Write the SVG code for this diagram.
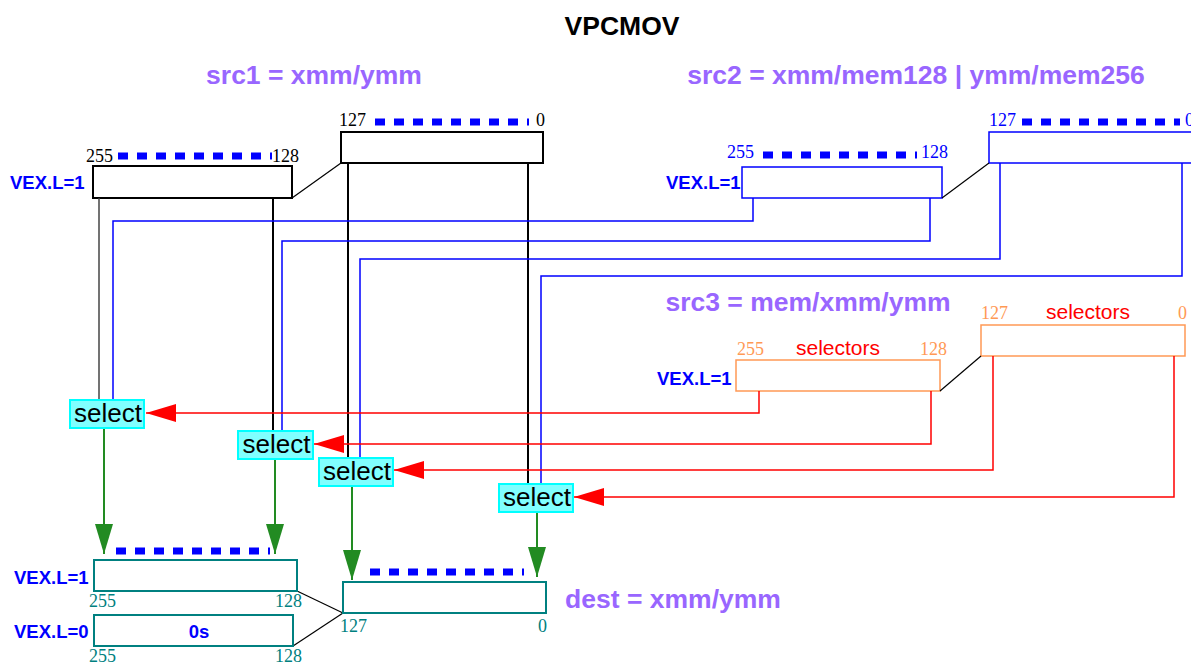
<svg xmlns="http://www.w3.org/2000/svg" width="1191" height="662" viewBox="0 0 1191 662">
<defs>
<marker id="ar" markerUnits="userSpaceOnUse" markerWidth="32" markerHeight="20" refX="30" refY="9" orient="auto"><path d="M0,0 L30,9 L0,18 Z" fill="#ff0000"/></marker>
<marker id="ag" markerUnits="userSpaceOnUse" markerWidth="32" markerHeight="20" refX="30" refY="9" orient="auto"><path d="M0,0 L30,9 L0,18 Z" fill="#228b22"/></marker>
</defs>
<style>
.title{font-family:"Liberation Sans",Arial,sans-serif;font-weight:bold;font-size:26.5px;fill:#000}
.op{font-family:"Liberation Sans",Arial,sans-serif;font-weight:bold;font-size:26.5px;fill:#9966ff}
.vex{font-family:"Liberation Sans",Arial,sans-serif;font-weight:bold;font-size:18.5px;fill:#0000ff}
.num{font-family:"Liberation Serif","Times New Roman",serif;font-size:18px}
.sel{font-family:"Liberation Sans",Arial,sans-serif;font-size:21px;fill:#ff0000}
.selt{font-family:"Liberation Sans",Arial,sans-serif;font-size:26px;fill:#000}
.dash{stroke:#0000ff;stroke-width:7;stroke-dasharray:10 9;fill:none}
.thin{stroke:#000;stroke-width:1.2;fill:none}
.selbox{fill:#80ffff;stroke:#00ffff;stroke-width:2}
</style>
<text class="title" x="622" y="35" text-anchor="middle">VPCMOV</text>
<g id="labels">
<text class="op" x="314" y="84" text-anchor="middle">src1 = xmm/ymm</text>
<text class="op" x="916" y="84" text-anchor="middle">src2 = xmm/mem128 | ymm/mem256</text>
<text class="op" x="808" y="311" text-anchor="middle">src3 = mem/xmm/ymm</text>
<text class="op" x="673" y="608" text-anchor="middle">dest = xmm/ymm</text>
</g>
<g id="src1-hi">
<text class="vex" x="10" y="189">VEX.L=1</text>
<text class="num" x="86" y="162" fill="#000">255</text>
<text class="num" x="272" y="162" fill="#000">128</text>
<line class="dash" x1="118" y1="156" x2="272" y2="156"/>
<rect x="93" y="166" width="199" height="32" fill="#fff" stroke="#000" stroke-width="2"/>
</g>
<g id="src1-lo">
<text class="num" x="339" y="126" fill="#000">127</text>
<text class="num" x="536" y="126" fill="#000">0</text>
<line class="dash" x1="375" y1="122" x2="529" y2="122"/>
<rect x="341" y="132" width="202" height="31" fill="#fff" stroke="#000" stroke-width="2"/>
</g>
<g id="src2-hi">
<text class="vex" x="666" y="189">VEX.L=1</text>
<text class="num" x="727" y="158" fill="#0000ff">255</text>
<text class="num" x="921" y="158" fill="#0000ff">128</text>
<line class="dash" x1="763" y1="155" x2="917" y2="155"/>
<rect x="742" y="167" width="200" height="31" fill="#fff" stroke="#0000ff" stroke-width="1.5"/>
</g>
<g id="src2-lo">
<text class="num" x="989" y="126" fill="#0000ff">127</text>
<text class="num" x="1185" y="126" fill="#0000ff">0</text>
<line class="dash" x1="1022" y1="122" x2="1180" y2="122"/>
<rect x="989" y="132" width="206" height="31" fill="#fff" stroke="#0000ff" stroke-width="1.5"/>
</g>
<g id="src3-hi">
<text class="vex" x="657" y="385">VEX.L=1</text>
<text class="num" x="737" y="355" fill="#ff9955">255</text>
<text class="sel" x="838" y="355" text-anchor="middle">selectors</text>
<text class="num" x="920" y="355" fill="#ff9955">128</text>
<rect x="736" y="360" width="204" height="31" fill="#fff" stroke="#ff9955" stroke-width="1.5"/>
</g>
<g id="src3-lo">
<text class="num" x="981" y="319" fill="#ff9955">127</text>
<text class="sel" x="1088" y="319" text-anchor="middle">selectors</text>
<text class="num" x="1178" y="319" fill="#ff9955">0</text>
<rect x="981" y="325" width="204" height="31" fill="#fff" stroke="#ff9955" stroke-width="1.5"/>
</g>
<g id="connectors">
<line class="thin" x1="292" y1="198" x2="341" y2="163"/>
<line class="thin" x1="942" y1="198" x2="989" y2="163"/>
<line class="thin" x1="940" y1="391" x2="981" y2="356"/>
<line class="thin" x1="297" y1="591" x2="343" y2="613"/>
<line class="thin" x1="293" y1="646" x2="343" y2="613"/>
<line x1="99" y1="198" x2="99" y2="400" stroke="#444" stroke-width="1.5"/>
<line x1="273" y1="198" x2="273" y2="431" stroke="#000" stroke-width="2"/>
<line x1="348" y1="163" x2="348" y2="458" stroke="#000" stroke-width="2"/>
<line x1="528" y1="163" x2="528" y2="484" stroke="#000" stroke-width="2"/>
<polyline points="753,198 753,221 113,221 113,400" fill="none" stroke="#0000ff" stroke-width="1.5"/>
<polyline points="930,198 930,241 282,241 282,431" fill="none" stroke="#0000ff" stroke-width="1.5"/>
<polyline points="1000,163 1000,259 360,259 360,458" fill="none" stroke="#0000ff" stroke-width="1.5"/>
<polyline points="1182,163 1182,276 541,276 541,484" fill="none" stroke="#0000ff" stroke-width="1.5"/>
<polyline points="759,391 759,413 146,413" fill="none" stroke="#ff0000" stroke-width="1.5" marker-end="url(#ar)"/>
<polyline points="931,391 931,444 314,444" fill="none" stroke="#ff0000" stroke-width="1.5" marker-end="url(#ar)"/>
<polyline points="993,356 993,470 394,470" fill="none" stroke="#ff0000" stroke-width="1.5" marker-end="url(#ar)"/>
<polyline points="1174,356 1174,497 574,497" fill="none" stroke="#ff0000" stroke-width="1.5" marker-end="url(#ar)"/>
<line x1="104" y1="428" x2="104" y2="554" stroke="#228b22" stroke-width="2" marker-end="url(#ag)"/>
<line x1="275" y1="459" x2="275" y2="554" stroke="#228b22" stroke-width="2" marker-end="url(#ag)"/>
<line x1="352" y1="487" x2="352" y2="580" stroke="#228b22" stroke-width="2" marker-end="url(#ag)"/>
<line x1="537" y1="512" x2="537" y2="577" stroke="#228b22" stroke-width="2" marker-end="url(#ag)"/>
</g>
<g id="select1"><rect class="selbox" x="70" y="400" width="74" height="28"/><text class="selt" x="108" y="422" text-anchor="middle">select</text></g>
<g id="select2"><rect class="selbox" x="238" y="431" width="75" height="28"/><text class="selt" x="276.5" y="453" text-anchor="middle">select</text></g>
<g id="select3"><rect class="selbox" x="319" y="458" width="74" height="28"/><text class="selt" x="357" y="480" text-anchor="middle">select</text></g>
<g id="select4"><rect class="selbox" x="499" y="484" width="74" height="28"/><text class="selt" x="537" y="506" text-anchor="middle">select</text></g>
<g id="dest-hi">
<text class="vex" x="14" y="584">VEX.L=1</text>
<line class="dash" x1="116" y1="551" x2="270" y2="551"/>
<rect x="94" y="560" width="203" height="31" fill="#fff" stroke="#008080" stroke-width="2"/>
<text class="num" x="89" y="607" fill="#008080">255</text>
<text class="num" x="275" y="607" fill="#008080">128</text>
</g>
<g id="dest-zero">
<text class="vex" x="14" y="638">VEX.L=0</text>
<rect x="94" y="615" width="199" height="31" fill="#fff" stroke="#008080" stroke-width="2"/>
<text class="vex" x="199" y="638" text-anchor="middle">0s</text>
<text class="num" x="89" y="662" fill="#008080">255</text>
<text class="num" x="275" y="662" fill="#008080">128</text>
</g>
<g id="dest">
<line class="dash" x1="370" y1="572" x2="524" y2="572"/>
<rect x="343" y="582" width="203" height="31" fill="#fff" stroke="#008080" stroke-width="2"/>
<text class="num" x="340" y="632" fill="#008080">127</text>
<text class="num" x="538" y="632" fill="#008080">0</text>
</g>
</svg>
